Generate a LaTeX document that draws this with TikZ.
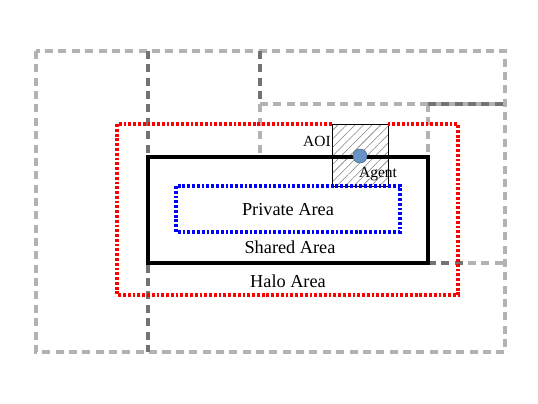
\documentclass[tikz,border=0pt]{standalone}
\usepackage{fontspec}
\setmainfont{Liberation Serif}
\usetikzlibrary{patterns.meta}
\definecolor{agentblue}{RGB}{104,148,200}

\begin{document}
\begin{tikzpicture}[x=0.025cm,y=-0.025cm,
                      cell line/.style={black!30,line width=2.2pt,dash pattern=on 5.7pt off 3.8pt},
                      cell overlap/.style={black!55,line width=2.2pt,dash pattern=on 5.7pt off 3.8pt},
                      halo area/.style={red,line width=2.3pt,dash pattern=on 2pt off 1.4pt},
                      private area/.style={blue,line width=2.3pt,dash pattern=on 2pt off 1.4pt},
                      shared area/.style={black,line width=2.6pt},
                      area label/.style={font=\fontsize{13}{15}\selectfont,inner sep=0pt},
                      small label/.style={font=\fontsize{11}{13}\selectfont,inner sep=0pt}]
  \useasboundingbox (0,0) rectangle (538,403);

  % neighbouring partitions
  \draw[cell line] (36,51) rectangle (505,352);
  \draw[cell line] (260,104) -- (505,104);
  \draw[cell line] (260,51) -- (260,157);
  \draw[cell line] (428,104) -- (428,157);
  \draw[cell line] (428,263) -- (505,263);
  \draw[cell overlap] (148,51) -- (148,352);
  \draw[cell overlap] (260,51) -- (260,104);
  \draw[cell overlap] (428,104) -- (505,104);
  \draw[cell overlap] (428,263) -- (466,263);

  % area of interest
  \draw[thin,pattern={Lines[angle=45,distance=4.3pt,line width=0.4pt]},pattern color=black!50] (332,124) rectangle (388,186);

  % areas
  \draw[halo area] (332,124) -- (117,124) -- (117,295) -- (458,295) -- (458,124) -- (388,124);
  \draw[shared area] (148,157) rectangle (428,263);
  \draw[private area] (176,186) rectangle (400,232);

  \node[circle,fill=agentblue,draw=agentblue!70!black,thin,minimum size=0.35cm,inner sep=0pt] (agent) at (360,156) {};

  \node[small label,anchor=east] (aoi) at (331,141) {AOI};
  \node[small label] (agentlabel) at (378,174) {Agent};
  \node[area label] (private) at (288,210) {Private Area};
  \node[area label] (shared) at (290,247) {Shared Area};
  \node[area label] (halo) at (288,281) {Halo Area};
\end{tikzpicture}
\end{document}
